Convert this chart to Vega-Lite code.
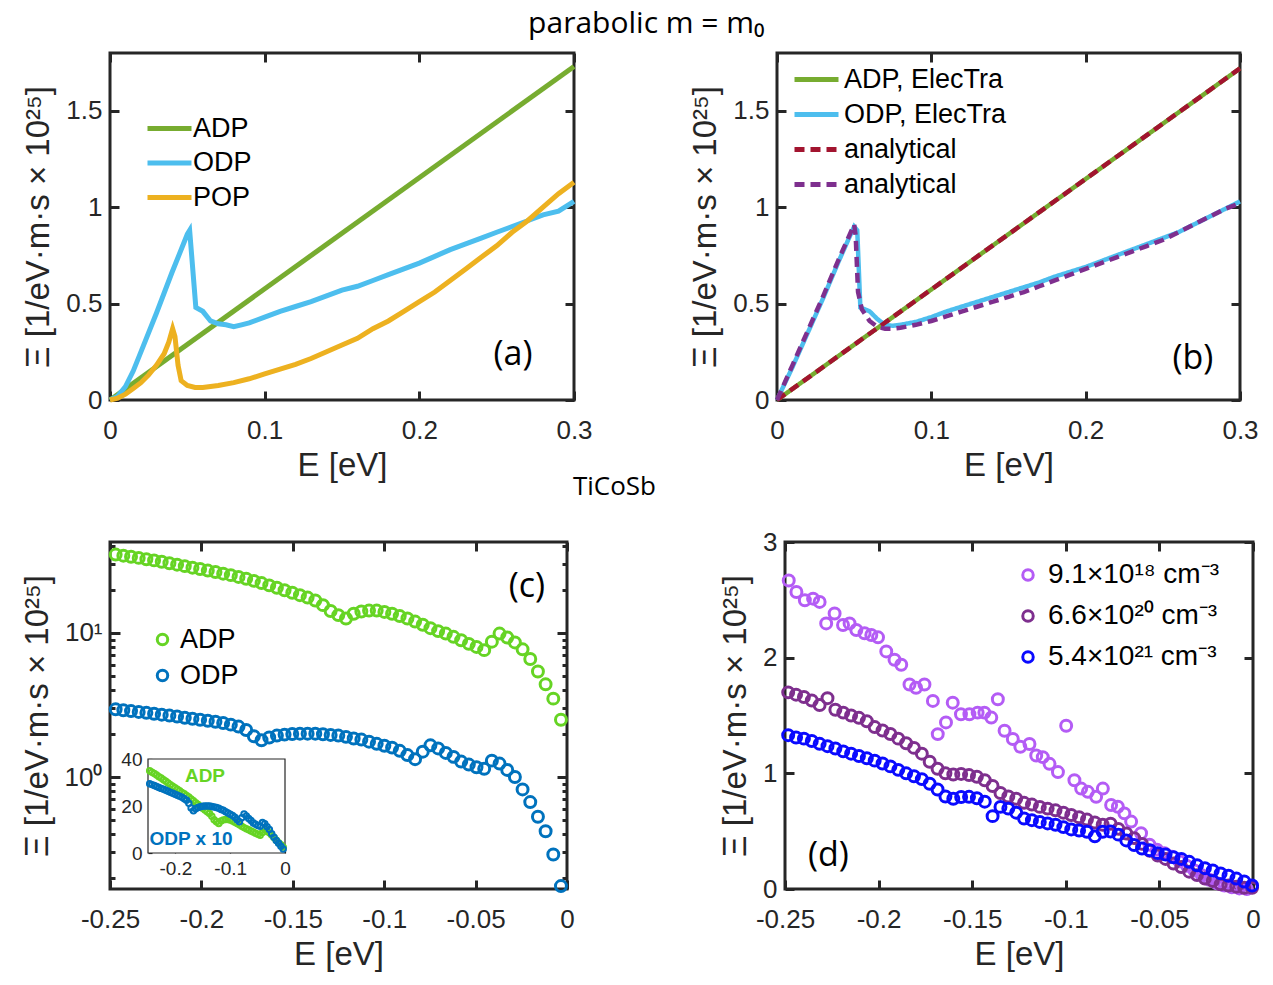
{
  "$schema": "https://vega.github.io/schema/vega-lite/v6.json",
  "background": "white",
  "padding": {"left": 19, "top": 9, "right": 5, "bottom": 5},
  "title": {"text": "parabolic m = m₀", "font": "Open Sans", "fontSize": 30, "fontWeight": "normal", "color": "black", "anchor": "middle", "offset": 11, "dx": 4},
  "datasets": {
    "a": [
      {"E":0,"s":"ADP","v":0},{"E":0.3,"s":"ADP","v":1.73},
      {"E":0,"s":"ODP","v":0},{"E":0.005,"s":"ODP","v":0.02},{"E":0.01,"s":"ODP","v":0.07},{"E":0.015,"s":"ODP","v":0.15},{"E":0.02,"s":"ODP","v":0.25},{"E":0.03,"s":"ODP","v":0.45},{"E":0.04,"s":"ODP","v":0.66},{"E":0.05,"s":"ODP","v":0.86},{"E":0.0515,"s":"ODP","v":0.88},{"E":0.0555,"s":"ODP","v":0.48},{"E":0.06,"s":"ODP","v":0.46},{"E":0.065,"s":"ODP","v":0.41},{"E":0.07,"s":"ODP","v":0.395},{"E":0.075,"s":"ODP","v":0.39},{"E":0.08,"s":"ODP","v":0.38},{"E":0.085,"s":"ODP","v":0.39},{"E":0.09,"s":"ODP","v":0.4},{"E":0.1,"s":"ODP","v":0.43},{"E":0.11,"s":"ODP","v":0.46},{"E":0.12,"s":"ODP","v":0.485},{"E":0.13,"s":"ODP","v":0.51},{"E":0.14,"s":"ODP","v":0.54},{"E":0.15,"s":"ODP","v":0.57},{"E":0.16,"s":"ODP","v":0.59},{"E":0.17,"s":"ODP","v":0.62},{"E":0.18,"s":"ODP","v":0.65},{"E":0.19,"s":"ODP","v":0.68},{"E":0.2,"s":"ODP","v":0.71},{"E":0.21,"s":"ODP","v":0.745},{"E":0.22,"s":"ODP","v":0.78},{"E":0.23,"s":"ODP","v":0.81},{"E":0.24,"s":"ODP","v":0.84},{"E":0.25,"s":"ODP","v":0.87},{"E":0.26,"s":"ODP","v":0.9},{"E":0.27,"s":"ODP","v":0.93},{"E":0.28,"s":"ODP","v":0.96},{"E":0.29,"s":"ODP","v":0.98},{"E":0.3,"s":"ODP","v":1.03},
      {"E":0,"s":"POP","v":0},{"E":0.005,"s":"POP","v":0.01},{"E":0.01,"s":"POP","v":0.03},{"E":0.015,"s":"POP","v":0.06},{"E":0.02,"s":"POP","v":0.09},{"E":0.025,"s":"POP","v":0.13},{"E":0.03,"s":"POP","v":0.18},{"E":0.035,"s":"POP","v":0.24},{"E":0.038,"s":"POP","v":0.3},{"E":0.0405,"s":"POP","v":0.37},{"E":0.042,"s":"POP","v":0.33},{"E":0.044,"s":"POP","v":0.18},{"E":0.046,"s":"POP","v":0.1},{"E":0.05,"s":"POP","v":0.075},{"E":0.055,"s":"POP","v":0.065},{"E":0.06,"s":"POP","v":0.065},{"E":0.07,"s":"POP","v":0.075},{"E":0.08,"s":"POP","v":0.09},{"E":0.09,"s":"POP","v":0.11},{"E":0.1,"s":"POP","v":0.135},{"E":0.11,"s":"POP","v":0.16},{"E":0.12,"s":"POP","v":0.185},{"E":0.13,"s":"POP","v":0.215},{"E":0.14,"s":"POP","v":0.25},{"E":0.15,"s":"POP","v":0.285},{"E":0.16,"s":"POP","v":0.32},{"E":0.17,"s":"POP","v":0.37},{"E":0.18,"s":"POP","v":0.41},{"E":0.19,"s":"POP","v":0.46},{"E":0.2,"s":"POP","v":0.51},{"E":0.21,"s":"POP","v":0.56},{"E":0.22,"s":"POP","v":0.62},{"E":0.23,"s":"POP","v":0.68},{"E":0.24,"s":"POP","v":0.74},{"E":0.25,"s":"POP","v":0.8},{"E":0.26,"s":"POP","v":0.87},{"E":0.27,"s":"POP","v":0.93},{"E":0.28,"s":"POP","v":1.0},{"E":0.29,"s":"POP","v":1.07},{"E":0.3,"s":"POP","v":1.13}
    ],
    "b": [
      {"E":0,"s":"ADP, ElecTra","v":0},{"E":0.3,"s":"ADP, ElecTra","v":1.72},
      {"E":0,"s":"ODP, ElecTra","v":0},{"E":0.01,"s":"ODP, ElecTra","v":0.17},{"E":0.02,"s":"ODP, ElecTra","v":0.35},{"E":0.03,"s":"ODP, ElecTra","v":0.53},{"E":0.04,"s":"ODP, ElecTra","v":0.72},{"E":0.05,"s":"ODP, ElecTra","v":0.9},{"E":0.052,"s":"ODP, ElecTra","v":0.88},{"E":0.054,"s":"ODP, ElecTra","v":0.48},{"E":0.06,"s":"ODP, ElecTra","v":0.46},{"E":0.065,"s":"ODP, ElecTra","v":0.42},{"E":0.07,"s":"ODP, ElecTra","v":0.39},{"E":0.075,"s":"ODP, ElecTra","v":0.385},{"E":0.08,"s":"ODP, ElecTra","v":0.39},{"E":0.09,"s":"ODP, ElecTra","v":0.405},{"E":0.1,"s":"ODP, ElecTra","v":0.43},{"E":0.11,"s":"ODP, ElecTra","v":0.46},{"E":0.12,"s":"ODP, ElecTra","v":0.485},{"E":0.13,"s":"ODP, ElecTra","v":0.51},{"E":0.14,"s":"ODP, ElecTra","v":0.535},{"E":0.15,"s":"ODP, ElecTra","v":0.56},{"E":0.16,"s":"ODP, ElecTra","v":0.585},{"E":0.17,"s":"ODP, ElecTra","v":0.61},{"E":0.18,"s":"ODP, ElecTra","v":0.64},{"E":0.19,"s":"ODP, ElecTra","v":0.665},{"E":0.2,"s":"ODP, ElecTra","v":0.69},{"E":0.21,"s":"ODP, ElecTra","v":0.72},{"E":0.22,"s":"ODP, ElecTra","v":0.75},{"E":0.23,"s":"ODP, ElecTra","v":0.78},{"E":0.24,"s":"ODP, ElecTra","v":0.81},{"E":0.25,"s":"ODP, ElecTra","v":0.84},{"E":0.26,"s":"ODP, ElecTra","v":0.87},{"E":0.27,"s":"ODP, ElecTra","v":0.91},{"E":0.28,"s":"ODP, ElecTra","v":0.95},{"E":0.29,"s":"ODP, ElecTra","v":0.99},{"E":0.3,"s":"ODP, ElecTra","v":1.03},
      {"E":0,"s":"analytical ADP","v":0},{"E":0.3,"s":"analytical ADP","v":1.72},
      {"E":0,"s":"analytical ODP","v":0},{"E":0.01,"s":"analytical ODP","v":0.18},{"E":0.02,"s":"analytical ODP","v":0.36},{"E":0.03,"s":"analytical ODP","v":0.54},{"E":0.04,"s":"analytical ODP","v":0.73},{"E":0.05,"s":"analytical ODP","v":0.91},{"E":0.051,"s":"analytical ODP","v":0.85},{"E":0.0525,"s":"analytical ODP","v":0.56},{"E":0.055,"s":"analytical ODP","v":0.47},{"E":0.06,"s":"analytical ODP","v":0.41},{"E":0.065,"s":"analytical ODP","v":0.38},{"E":0.07,"s":"analytical ODP","v":0.37},{"E":0.075,"s":"analytical ODP","v":0.37},{"E":0.08,"s":"analytical ODP","v":0.375},{"E":0.09,"s":"analytical ODP","v":0.39},{"E":0.1,"s":"analytical ODP","v":0.41},{"E":0.11,"s":"analytical ODP","v":0.435},{"E":0.12,"s":"analytical ODP","v":0.46},{"E":0.13,"s":"analytical ODP","v":0.485},{"E":0.14,"s":"analytical ODP","v":0.51},{"E":0.15,"s":"analytical ODP","v":0.535},{"E":0.16,"s":"analytical ODP","v":0.56},{"E":0.17,"s":"analytical ODP","v":0.59},{"E":0.18,"s":"analytical ODP","v":0.62},{"E":0.19,"s":"analytical ODP","v":0.65},{"E":0.2,"s":"analytical ODP","v":0.68},{"E":0.21,"s":"analytical ODP","v":0.71},{"E":0.22,"s":"analytical ODP","v":0.74},{"E":0.23,"s":"analytical ODP","v":0.77},{"E":0.24,"s":"analytical ODP","v":0.8},{"E":0.25,"s":"analytical ODP","v":0.83},{"E":0.26,"s":"analytical ODP","v":0.87},{"E":0.27,"s":"analytical ODP","v":0.91},{"E":0.28,"s":"analytical ODP","v":0.95},{"E":0.29,"s":"analytical ODP","v":0.99},{"E":0.3,"s":"analytical ODP","v":1.02}
    ],
    "c": [
      {"E":-0.0033,"ADP":2.5,"ODP":0.175,"ODPx10":1.75},{"E":-0.0075,"ADP":3.5,"ODP":0.29,"ODPx10":2.9},{"E":-0.0117,"ADP":4.4,"ODP":0.42,"ODPx10":4.2},{"E":-0.0159,"ADP":5.4,"ODP":0.53,"ODPx10":5.3},{"E":-0.0201,"ADP":6.6,"ODP":0.67,"ODPx10":6.7},{"E":-0.0243,"ADP":7.7,"ODP":0.82,"ODPx10":8.2},{"E":-0.0285,"ADP":8.6,"ODP":1.0,"ODPx10":10.0},{"E":-0.0327,"ADP":9.3,"ODP":1.12,"ODPx10":11.2},{"E":-0.0369,"ADP":9.9,"ODP":1.24,"ODPx10":12.4},{"E":-0.0411,"ADP":8.7,"ODP":1.3,"ODPx10":13.0},
      {"E":-0.0453,"ADP":7.6,"ODP":1.14,"ODPx10":11.4},{"E":-0.0495,"ADP":8.0,"ODP":1.17,"ODPx10":11.7},{"E":-0.0537,"ADP":8.4,"ODP":1.22,"ODPx10":12.2},{"E":-0.0579,"ADP":8.9,"ODP":1.28,"ODPx10":12.8},{"E":-0.0621,"ADP":9.4,"ODP":1.38,"ODPx10":13.8},{"E":-0.0663,"ADP":9.9,"ODP":1.47,"ODPx10":14.7},{"E":-0.0705,"ADP":10.3,"ODP":1.58,"ODPx10":15.8},{"E":-0.0747,"ADP":10.8,"ODP":1.66,"ODPx10":16.6},{"E":-0.0789,"ADP":11.4,"ODP":1.5,"ODPx10":15.0},{"E":-0.0831,"ADP":12.0,"ODP":1.33,"ODPx10":13.3},
      {"E":-0.0873,"ADP":12.6,"ODP":1.42,"ODPx10":14.2},{"E":-0.0915,"ADP":13.1,"ODP":1.52,"ODPx10":15.2},{"E":-0.0957,"ADP":13.6,"ODP":1.6,"ODPx10":16.0},{"E":-0.0999,"ADP":14.0,"ODP":1.65,"ODPx10":16.5},{"E":-0.1041,"ADP":14.3,"ODP":1.7,"ODPx10":17.0},{"E":-0.1083,"ADP":14.3,"ODP":1.76,"ODPx10":17.6},{"E":-0.1125,"ADP":14.1,"ODP":1.82,"ODPx10":18.2},{"E":-0.1167,"ADP":13.6,"ODP":1.85,"ODPx10":18.5},{"E":-0.1209,"ADP":12.6,"ODP":1.9,"ODPx10":19.0},{"E":-0.1251,"ADP":13.3,"ODP":1.94,"ODPx10":19.4},
      {"E":-0.1293,"ADP":14.2,"ODP":1.96,"ODPx10":19.6},{"E":-0.1335,"ADP":15.6,"ODP":1.98,"ODPx10":19.8},{"E":-0.1377,"ADP":16.8,"ODP":2.0,"ODPx10":20.0},{"E":-0.1419,"ADP":17.6,"ODP":2.0,"ODPx10":20.0},{"E":-0.1461,"ADP":18.3,"ODP":2.0,"ODPx10":20.0},{"E":-0.1503,"ADP":19.0,"ODP":1.99,"ODPx10":19.9},{"E":-0.1545,"ADP":19.8,"ODP":1.97,"ODPx10":19.7},{"E":-0.1587,"ADP":20.6,"ODP":1.94,"ODPx10":19.4},{"E":-0.1629,"ADP":21.4,"ODP":1.88,"ODPx10":18.8},{"E":-0.1671,"ADP":22.2,"ODP":1.8,"ODPx10":18.0},
      {"E":-0.1713,"ADP":23.0,"ODP":1.92,"ODPx10":19.2},{"E":-0.1755,"ADP":23.8,"ODP":2.12,"ODPx10":21.2},{"E":-0.1797,"ADP":24.5,"ODP":2.24,"ODPx10":22.4},{"E":-0.1839,"ADP":25.2,"ODP":2.31,"ODPx10":23.1},{"E":-0.1881,"ADP":25.8,"ODP":2.37,"ODPx10":23.7},{"E":-0.1923,"ADP":26.5,"ODP":2.42,"ODPx10":24.2},{"E":-0.1965,"ADP":27.1,"ODP":2.46,"ODPx10":24.6},{"E":-0.2007,"ADP":27.8,"ODP":2.5,"ODPx10":25.0},{"E":-0.2049,"ADP":28.4,"ODP":2.54,"ODPx10":25.4},{"E":-0.2091,"ADP":29.1,"ODP":2.58,"ODPx10":25.8},
      {"E":-0.2133,"ADP":29.8,"ODP":2.63,"ODPx10":26.3},{"E":-0.2175,"ADP":30.5,"ODP":2.67,"ODPx10":26.7},{"E":-0.2217,"ADP":31.2,"ODP":2.71,"ODPx10":27.1},{"E":-0.2259,"ADP":31.9,"ODP":2.75,"ODPx10":27.5},{"E":-0.2301,"ADP":32.5,"ODP":2.79,"ODPx10":27.9},{"E":-0.2343,"ADP":33.2,"ODP":2.83,"ODPx10":28.3},{"E":-0.2385,"ADP":33.8,"ODP":2.87,"ODPx10":28.7},{"E":-0.2427,"ADP":34.4,"ODP":2.91,"ODPx10":29.1},{"E":-0.2469,"ADP":35.0,"ODP":2.95,"ODPx10":29.5}
    ],
    "dl": [
      {"E":-0.248,"v":2.667},{"E":-0.2439,"v":2.568},{"E":-0.2394,"v":2.496},{"E":-0.235,"v":2.51},{"E":-0.2315,"v":2.482},{"E":-0.228,"v":2.296},{"E":-0.2235,"v":2.382},{"E":-0.219,"v":2.282},{"E":-0.2155,"v":2.296},{"E":-0.2119,"v":2.239},{"E":-0.2075,"v":2.211},{"E":-0.2039,"v":2.196},{"E":-0.2003,"v":2.176},{"E":-0.1959,"v":2.054},{"E":-0.1915,"v":1.982},{"E":-0.1879,"v":1.939},{"E":-0.1835,"v":1.768},{"E":-0.18,"v":1.74},{"E":-0.1755,"v":1.768},{"E":-0.171,"v":1.626},{"E":-0.1684,"v":1.339},{"E":-0.164,"v":1.44},{"E":-0.1604,"v":1.611},{"E":-0.156,"v":1.511},{"E":-0.1515,"v":1.511},{"E":-0.1471,"v":1.525},{"E":-0.1435,"v":1.525},{"E":-0.1398,"v":1.482},{"E":-0.1363,"v":1.64},{"E":-0.1327,"v":1.368},{"E":-0.1283,"v":1.297},{"E":-0.1243,"v":1.23},{"E":-0.1194,"v":1.254},{"E":-0.1158,"v":1.154},{"E":-0.1123,"v":1.14},{"E":-0.1087,"v":1.082},{"E":-0.1042,"v":1.011},{"E":-0.0998,"v":1.411},{"E":-0.0954,"v":0.94},{"E":-0.0918,"v":0.868},{"E":-0.0882,"v":0.84},{"E":-0.0838,"v":0.797},{"E":-0.0802,"v":0.868},{"E":-0.0758,"v":0.726},{"E":-0.0722,"v":0.711},{"E":-0.0687,"v":0.654},{"E":-0.0651,"v":0.583},{"E":-0.0598,"v":0.482},{"E":-0.0553,"v":0.383},{"E":-0.0513,"v":0.34},{"E":-0.0473,"v":0.31},{"E":-0.0433,"v":0.28},{"E":-0.0393,"v":0.24},{"E":-0.0353,"v":0.2},{"E":-0.0313,"v":0.16},{"E":-0.0273,"v":0.12},{"E":-0.0233,"v":0.08},{"E":-0.0193,"v":0.05},{"E":-0.0153,"v":0.03},{"E":-0.0113,"v":0.015},{"E":-0.0073,"v":0.005},{"E":-0.0033,"v":0.0}
    ],
    "dmb": [
      {"E":-0.0005,"M":0.01,"B":0.03},{"E":-0.0047,"M":0.01,"B":0.065},{"E":-0.0089,"M":0.02,"B":0.09},{"E":-0.0131,"M":0.03,"B":0.115},{"E":-0.0173,"M":0.04,"B":0.135},{"E":-0.0215,"M":0.07,"B":0.16},{"E":-0.0257,"M":0.09,"B":0.18},{"E":-0.0299,"M":0.12,"B":0.205},{"E":-0.0341,"M":0.15,"B":0.235},{"E":-0.0383,"M":0.19,"B":0.26},
      {"E":-0.0425,"M":0.22,"B":0.275},{"E":-0.0467,"M":0.26,"B":0.298},{"E":-0.0509,"M":0.29,"B":0.31},{"E":-0.0551,"M":0.33,"B":0.335},{"E":-0.0593,"M":0.39,"B":0.35},{"E":-0.0635,"M":0.44,"B":0.38},{"E":-0.0677,"M":0.48,"B":0.42},{"E":-0.0719,"M":0.52,"B":0.47},{"E":-0.0761,"M":0.565,"B":0.497},{"E":-0.0803,"M":0.555,"B":0.495},
      {"E":-0.0845,"M":0.575,"B":0.455},{"E":-0.0887,"M":0.6,"B":0.495},{"E":-0.0929,"M":0.62,"B":0.505},{"E":-0.0971,"M":0.64,"B":0.515},{"E":-0.1013,"M":0.66,"B":0.535},{"E":-0.1055,"M":0.68,"B":0.555},{"E":-0.1097,"M":0.695,"B":0.567},{"E":-0.1139,"M":0.71,"B":0.58},{"E":-0.1181,"M":0.73,"B":0.595},{"E":-0.1223,"M":0.745,"B":0.61},
      {"E":-0.1265,"M":0.78,"B":0.66},{"E":-0.1307,"M":0.8,"B":0.695},{"E":-0.1349,"M":0.83,"B":0.71},{"E":-0.1391,"M":0.89,"B":0.63},{"E":-0.1433,"M":0.94,"B":0.755},{"E":-0.1475,"M":0.97,"B":0.785},{"E":-0.1517,"M":0.985,"B":0.797},{"E":-0.1559,"M":0.995,"B":0.795},{"E":-0.1601,"M":0.99,"B":0.78},{"E":-0.1643,"M":1.0,"B":0.8},
      {"E":-0.1685,"M":1.04,"B":0.86},{"E":-0.1727,"M":1.1,"B":0.91},{"E":-0.1769,"M":1.17,"B":0.95},{"E":-0.1811,"M":1.22,"B":0.975},{"E":-0.1853,"M":1.26,"B":1.0},{"E":-0.1895,"M":1.3,"B":1.03},{"E":-0.1937,"M":1.34,"B":1.06},{"E":-0.1979,"M":1.37,"B":1.085},{"E":-0.2021,"M":1.4,"B":1.11},{"E":-0.2063,"M":1.45,"B":1.13},
      {"E":-0.2105,"M":1.48,"B":1.15},{"E":-0.2147,"M":1.5,"B":1.17},{"E":-0.2189,"M":1.525,"B":1.19},{"E":-0.2231,"M":1.55,"B":1.215},{"E":-0.2273,"M":1.65,"B":1.235},{"E":-0.2315,"M":1.59,"B":1.255},{"E":-0.2357,"M":1.63,"B":1.28},{"E":-0.2399,"M":1.66,"B":1.3},{"E":-0.2441,"M":1.68,"B":1.31},{"E":-0.2483,"M":1.7,"B":1.33}
    ]
  },
  "vconcat": [
    {
      "title": {"text": "TiCoSb", "orient": "bottom", "font": "Open Sans", "fontSize": 26, "fontWeight": "normal", "color": "black", "anchor": "middle", "offset": -10, "dx": -26},
      "hconcat": [
        {
          "width": 464, "height": 347,
          "layer": [
            {
              "data": {"name": "a"},
              "mark": {"type": "line", "strokeWidth": 5},
              "encoding": {
                "x": {"field": "E", "type": "quantitative", "scale": {"domain": [0, 0.3], "nice": false, "zero": false}, "axis": {"values": [0, 0.1, 0.2, 0.3], "format": "~g", "title": "E [eV]"}},
                "y": {"field": "v", "type": "quantitative", "scale": {"domain": [0, 1.8], "nice": false}, "axis": {"values": [0, 0.5, 1, 1.5], "format": "~g", "title": "Ξ [1/eV·m·s × 10²⁵]"}},
                "color": {"field": "s", "type": "nominal", "scale": {"domain": ["ADP", "ODP", "POP"], "range": ["#77AC30", "#4DBEEE", "#EDB120"]},
                  "legend": {"title": null, "orient": "none", "legendX": 46, "legendY": 62, "symbolType": "M-2,0H2", "symbolSize": 484, "symbolStrokeWidth": 5, "labelFontSize": 27, "labelOffset": 10, "rowPadding": 6.5, "padding": 0, "labelLimit": 0}}
              }
            },
            {
              "data": {"values": [{}]},
              "mark": {"type": "text", "text": "(a)", "font": "Open Sans", "fontSize": 34, "color": "black", "align": "center", "baseline": "middle"},
              "encoding": {
                "x": {"datum": 0.2606, "type": "quantitative", "axis": {"orient": "top", "values": [0, 0.1, 0.2, 0.3], "labels": false, "title": null}},
                "y": {"datum": 0.234, "type": "quantitative", "axis": {"orient": "right", "values": [0, 0.5, 1, 1.5], "labels": false, "title": null}}
              }
            }
          ],
          "resolve": {"axis": {"x": "independent", "y": "independent"}}
        },
        {
          "width": 463, "height": 347,
          "layer": [
            {
              "data": {"name": "b"},
              "mark": {"type": "line", "strokeWidth": 4.5},
              "encoding": {
                "x": {"field": "E", "type": "quantitative", "scale": {"domain": [0, 0.3], "nice": false, "zero": false}, "axis": {"values": [0, 0.1, 0.2, 0.3], "format": "~g", "title": "E [eV]"}},
                "y": {"field": "v", "type": "quantitative", "scale": {"domain": [0, 1.8], "nice": false}, "axis": {"values": [0, 0.5, 1, 1.5], "format": "~g", "title": "Ξ [1/eV·m·s × 10²⁵]"}},
                "color": {"field": "s", "type": "nominal", "scale": {"domain": ["ADP, ElecTra", "ODP, ElecTra", "analytical ADP", "analytical ODP"], "range": ["#77AC30", "#4DBEEE", "#A2142F", "#7E2F8E"]},
                  "legend": {"title": null, "orient": "none", "legendX": 26, "legendY": 13, "symbolType": "M-2,0H2", "symbolSize": 484, "symbolStrokeWidth": 5, "labelFontSize": 27, "labelOffset": 14, "rowPadding": 7, "padding": 0, "labelLimit": 0, "labelExpr": "indexof(datum.label, 'analytical') == 0 ? 'analytical' : datum.label"}},
                "strokeDash": {"field": "s", "type": "nominal", "scale": {"domain": ["ADP, ElecTra", "ODP, ElecTra", "analytical ADP", "analytical ODP"], "range": [[1, 0], [1, 0], [10, 6], [10, 6]]},
                  "legend": {"title": null, "orient": "none", "legendX": 26, "legendY": 13, "symbolType": "M-2,0H2", "symbolSize": 484, "symbolStrokeWidth": 5, "labelFontSize": 27, "labelOffset": 14, "rowPadding": 7, "padding": 0, "labelLimit": 0, "labelExpr": "indexof(datum.label, 'analytical') == 0 ? 'analytical' : datum.label"}}
              }
            },
            {
              "data": {"values": [{}]},
              "mark": {"type": "text", "text": "(b)", "font": "Open Sans", "fontSize": 34, "color": "black", "align": "center", "baseline": "middle"},
              "encoding": {
                "x": {"datum": 0.2695, "type": "quantitative", "axis": {"orient": "top", "values": [0, 0.1, 0.2, 0.3], "labels": false, "title": null}},
                "y": {"datum": 0.2115, "type": "quantitative", "axis": {"orient": "right", "values": [0, 0.5, 1, 1.5], "labels": false, "title": null}}
              }
            }
          ],
          "resolve": {"axis": {"x": "independent", "y": "independent"}}
        }
      ],
      "spacing": 203,
      "bounds": "flush",
      "resolve": {"scale": {"color": "independent", "strokeDash": "independent"}, "legend": {"color": "independent", "strokeDash": "independent"}}
    },
    {
      "hconcat": [
        {
          "width": 457, "height": 347,
          "layer": [
            {
              "layer": [
                {
                  "data": {"name": "c"},
                  "mark": {"type": "point", "filled": false, "strokeWidth": 3, "size": 120, "opacity": 1},
                  "encoding": {
                    "x": {"field": "E", "type": "quantitative", "scale": {"domain": [-0.25, 0], "nice": false, "zero": false}, "axis": {"values": [-0.25, -0.2, -0.15, -0.1, -0.05, 0], "format": "~g", "labelExpr": "replace(datum.label, '−', '-')", "title": "E [eV]"}},
                    "y": {"field": "ADP", "type": "quantitative", "scale": {"type": "log", "domain": [0.167, 42.8], "nice": false}, "axis": {"values": [0.2, 0.3, 0.4, 0.5, 0.6, 0.7, 0.8, 0.9, 1, 2, 3, 4, 5, 6, 7, 8, 9, 10, 20, 30, 40], "labelExpr": "datum.value == 1 ? '10⁰' : (datum.value == 10 ? '10¹' : '')", "tickSize": {"condition": {"test": "datum.value == 1 || datum.value == 10", "value": -10}, "value": -5}, "labelPadding": 18, "title": "Ξ [1/eV·m·s × 10²⁵]"}},
                    "color": {"datum": "ADP", "type": "nominal", "scale": {"domain": ["ADP", "ODP"], "range": ["#66D424", "#0072BD"]},
                      "legend": {"title": null, "orient": "none", "legendX": 39, "legendY": 84, "symbolType": "circle", "symbolSize": 110, "symbolStrokeWidth": 3, "labelFontSize": 27, "labelOffset": 4, "rowPadding": 8, "padding": 0, "labelLimit": 0}}
                  }
                },
                {
                  "data": {"name": "c"},
                  "mark": {"type": "point", "filled": false, "strokeWidth": 3, "size": 120, "opacity": 1},
                  "encoding": {
                    "x": {"field": "E", "type": "quantitative", "axis": null},
                    "y": {"field": "ODP", "type": "quantitative", "axis": null},
                    "color": {"datum": "ODP", "type": "nominal"}
                  }
                },
                {
                  "data": {"values": [{}]},
                  "mark": {"type": "text", "text": "(c)", "font": "Open Sans", "fontSize": 34, "color": "black", "align": "center", "baseline": "middle"},
                  "encoding": {
                    "x": {"datum": -0.0219, "type": "quantitative", "axis": {"orient": "top", "values": [-0.25, -0.2, -0.15, -0.1, -0.05, 0], "labels": false, "title": null}},
                    "y": {"datum": 20.9, "type": "quantitative", "axis": {"orient": "right", "values": [0.2, 0.3, 0.4, 0.5, 0.6, 0.7, 0.8, 0.9, 1, 2, 3, 4, 5, 6, 7, 8, 9, 10, 20, 30, 40], "labels": false, "title": null, "tickSize": {"condition": {"test": "datum.value == 1 || datum.value == 10", "value": -10}, "value": -5}}}
                  }
                }
              ],
              "resolve": {"axis": {"x": "independent", "y": "independent"}}
            },
            {
              "layer": [
                {
                  "data": {"values": [{}]},
                  "mark": {"type": "rect", "fill": "white", "stroke": "#262626", "strokeWidth": 1.2},
                  "encoding": {
                    "x": {"datum": -0.25, "type": "quantitative", "scale": {"domain": [-0.25, 0], "range": [38, 175], "nice": false, "zero": false}, "axis": {"orient": "bottom", "offset": -36, "values": [-0.2, -0.1, 0], "format": "~g", "labelExpr": "replace(datum.label, '−', '-')", "labelFontSize": 19, "labelPadding": 10, "tickSize": -4, "tickWidth": 1.2, "title": null}},
                    "x2": {"datum": 0},
                    "y": {"datum": 0, "type": "quantitative", "scale": {"domain": [0, 40], "range": [311, 217], "nice": false}, "axis": {"orient": "left", "offset": -38, "values": [0, 20, 40], "labelFontSize": 19, "labelPadding": 10, "tickSize": -4, "tickWidth": 1.2, "title": null}},
                    "y2": {"datum": 40}
                  }
                },
                {
                  "data": {"name": "c"},
                  "mark": {"type": "point", "filled": false, "strokeWidth": 2, "size": 30, "opacity": 1, "color": "#66D424"},
                  "encoding": {"x": {"field": "E", "type": "quantitative"}, "y": {"field": "ADP", "type": "quantitative"}}
                },
                {
                  "data": {"name": "c"},
                  "mark": {"type": "point", "filled": false, "strokeWidth": 2, "size": 30, "opacity": 1, "color": "#0072BD"},
                  "encoding": {"x": {"field": "E", "type": "quantitative"}, "y": {"field": "ODPx10", "type": "quantitative"}}
                },
                {
                  "data": {"values": [{}]},
                  "mark": {"type": "text", "text": "ADP", "font": "Liberation Sans", "fontWeight": "bold", "fontSize": 19, "color": "#66D424", "align": "center", "baseline": "middle"},
                  "encoding": {"x": {"datum": -0.146, "type": "quantitative"}, "y": {"datum": 32.7, "type": "quantitative"}}
                },
                {
                  "data": {"values": [{}]},
                  "mark": {"type": "text", "text": "ODP x 10", "font": "Liberation Sans", "fontWeight": "bold", "fontSize": 19, "color": "#0072BD", "align": "center", "baseline": "middle"},
                  "encoding": {"x": {"datum": -0.1715, "type": "quantitative"}, "y": {"datum": 5.9, "type": "quantitative"}}
                }
              ]
            }
          ],
          "resolve": {"scale": {"x": "independent", "y": "independent"}}
        },
        {
          "width": 468, "height": 347,
          "layer": [
            {
              "data": {"name": "dl"},
              "mark": {"type": "point", "filled": false, "strokeWidth": 3, "size": 120, "opacity": 1},
              "encoding": {
                "x": {"field": "E", "type": "quantitative", "scale": {"domain": [-0.25, 0], "nice": false, "zero": false}, "axis": {"values": [-0.25, -0.2, -0.15, -0.1, -0.05, 0], "format": "~g", "labelExpr": "replace(datum.label, '−', '-')", "title": "E [eV]"}},
                "y": {"field": "v", "type": "quantitative", "scale": {"domain": [0, 3], "nice": false}, "axis": {"values": [0, 1, 2, 3], "format": "~g", "title": "Ξ [1/eV·m·s × 10²⁵]"}},
                "color": {"datum": "9.1e18", "type": "nominal", "scale": {"domain": ["9.1e18", "6.6e20", "5.4e21"], "range": ["#B45CF5", "#7E2F8E", "#0A0AFF"]},
                  "legend": {"title": null, "orient": "none", "legendX": 229, "legendY": 19, "symbolType": "circle", "symbolSize": 110, "symbolStrokeWidth": 3, "labelFontSize": 28, "labelOffset": 6, "rowPadding": 13, "padding": 0, "labelLimit": 0, "labelExpr": "datum.label == '9.1e18' ? '9.1×10¹⁸ cm⁻³' : (datum.label == '6.6e20' ? '6.6×10²⁰ cm⁻³' : '5.4×10²¹ cm⁻³')"}}
              }
            },
            {
              "data": {"name": "dmb"},
              "mark": {"type": "point", "filled": false, "strokeWidth": 3, "size": 120, "opacity": 1},
              "encoding": {"x": {"field": "E", "type": "quantitative", "axis": null}, "y": {"field": "M", "type": "quantitative", "axis": null}, "color": {"datum": "6.6e20", "type": "nominal"}}
            },
            {
              "data": {"name": "dmb"},
              "mark": {"type": "point", "filled": false, "strokeWidth": 3, "size": 120, "opacity": 1},
              "encoding": {"x": {"field": "E", "type": "quantitative", "axis": null}, "y": {"field": "B", "type": "quantitative", "axis": null}, "color": {"datum": "5.4e21", "type": "nominal"}}
            },
            {
              "data": {"values": [{}]},
              "mark": {"type": "text", "text": "(d)", "font": "Open Sans", "fontSize": 34, "color": "black", "align": "center", "baseline": "middle"},
              "encoding": {
                "x": {"datum": -0.2268, "type": "quantitative", "axis": {"orient": "top", "values": [-0.25, -0.2, -0.15, -0.1, -0.05, 0], "labels": false, "title": null}},
                "y": {"datum": 0.286, "type": "quantitative", "axis": {"orient": "right", "values": [0, 1, 2, 3], "labels": false, "title": null}}
              }
            }
          ],
          "resolve": {"axis": {"x": "independent", "y": "independent"}}
        }
      ],
      "spacing": 218,
      "bounds": "flush",
      "resolve": {"scale": {"color": "independent"}, "legend": {"color": "independent"}}
    }
  ],
  "spacing": 27,
  "resolve": {"scale": {"color": "independent", "strokeDash": "independent"}, "legend": {"color": "independent", "strokeDash": "independent"}},
  "config": {
    "font": "Liberation Sans",
    "view": {"stroke": "#262626", "strokeWidth": 3},
    "axis": {"grid": false, "domain": false, "labelFont": "Liberation Sans", "labelFontSize": 26, "labelColor": "#262626", "titleFont": "Liberation Sans", "titleFontSize": 33, "titleFontWeight": "normal", "titleColor": "#262626", "tickColor": "#262626", "tickWidth": 3, "tickSize": -9, "labelPadding": 17, "titlePadding": 10, "labelFlush": false, "labelOverlap": false, "labelBound": false},
    "axisX": {"titleFontSize": 33, "labelPadding": 26, "titlePadding": 6},
    "legend": {"labelFont": "Liberation Sans", "labelColor": "black"}
  }
}
